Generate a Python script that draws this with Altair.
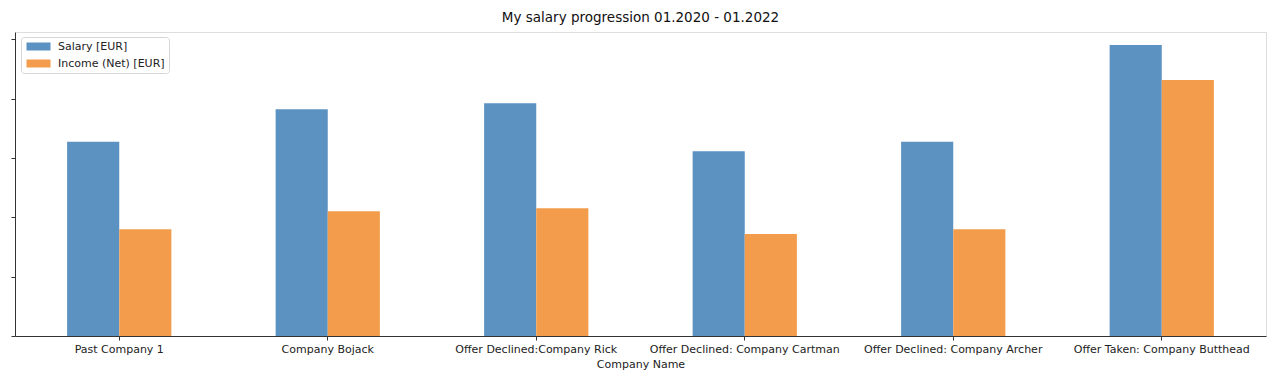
import altair as alt
import pandas as pd

companies = ["Past Company 1", "Company Bojack", "Offer Declined:Company Rick",
             "Offer Declined: Company Cartman", "Offer Declined: Company Archer",
             "Offer Taken: Company Butthead"]
salary = [32700, 38200, 39200, 31100, 32700, 49000]
income = [18000, 21000, 21500, 17200, 18000, 43100]
series = ["Salary [EUR]", "Income (Net) [EUR]"]
colors = ["#5b92c2", "#f39c4b"]

rows = []
for c, s, i in zip(companies, salary, income):
    rows.append({"company": c, "series": series[0], "value": s})
    rows.append({"company": c, "series": series[1], "value": i})
df = pd.DataFrame(rows)

FONT = "DejaVu Sans"

chart = alt.Chart(df).mark_bar(opacity=1).encode(
    x=alt.X("company:N", sort=companies,
            scale=alt.Scale(paddingInner=0, paddingOuter=0),
            axis=alt.Axis(title="Company Name", labelAngle=0, labelFontSize=11,
                          labelFont=FONT, titleFont=FONT, titleFontSize=11,
                          titleFontWeight="normal", labelColor="#222", titleColor="#222",
                          tickSize=4, tickColor="#333", domainColor="#333",
                          labelPadding=3, titlePadding=4, labelOverlap=False,
                          labelBound=False, labelLimit=400)),
    xOffset=alt.XOffset("series:N", sort=series,
                        scale=alt.Scale(paddingOuter=1, paddingInner=0)),
    y=alt.Y("value:Q", scale=alt.Scale(domain=[0, 51200], nice=False, zero=True),
            axis=alt.Axis(title=None, labels=False, values=[0, 10000, 20000, 30000, 40000, 50000],
                          tickSize=4, tickColor="#333", domainColor="#333", grid=False)),
    color=alt.Color("series:N", sort=series,
                    scale=alt.Scale(domain=series, range=colors),
                    legend=alt.Legend(title=None, orient="none", legendX=6, legendY=5,
                                      fillColor="white", strokeColor="#d6d6d6",
                                      cornerRadius=3, padding=4,
                                      symbolType="M-1,-1h6v2h-6z",
                                      symbolSize=64, symbolStrokeWidth=0,
                                      labelFont=FONT, labelFontSize=11,
                                      labelColor="#222", rowPadding=5,
                                      labelOffset=22, symbolOffset=0)),
).properties(
    width=1251, height=304,
    title=alt.TitleParams("My salary progression 01.2020 - 01.2022", font=FONT,
                          fontSize=13.5, fontWeight="normal", color="#111", offset=8),
    autosize=alt.AutoSizeParams(type="none"),
    padding={"left": 7, "top": 24, "right": 6, "bottom": 40},
).configure_view(stroke="#333", strokeWidth=1).configure(background="white")

chart.save("out.html", embed_options={"renderer": "svg", "actions": False})
